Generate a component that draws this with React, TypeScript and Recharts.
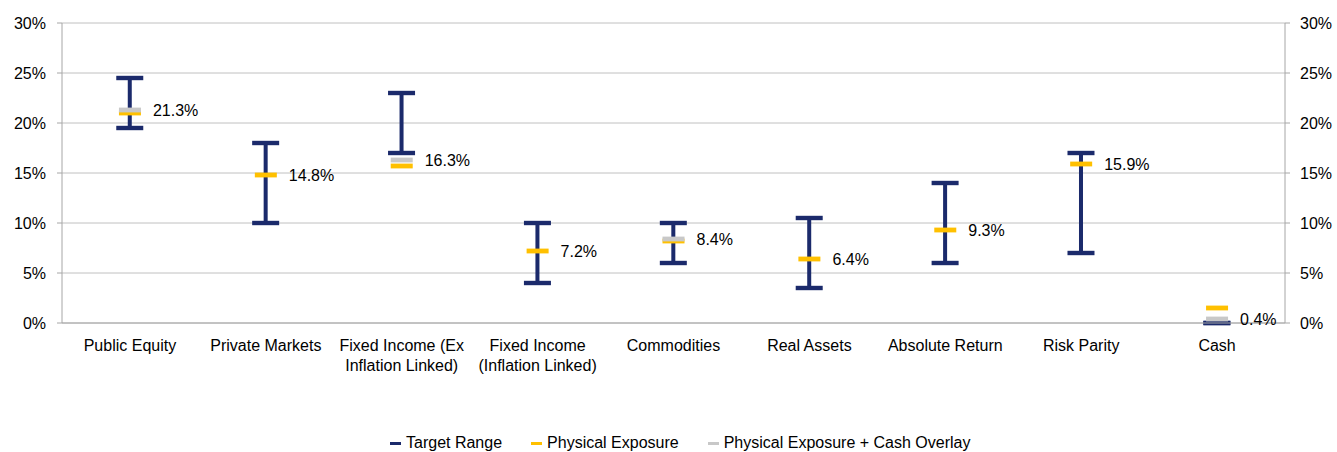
import React from 'react';
import { ComposedChart, Bar, Scatter, XAxis, YAxis, CartesianGrid, Legend } from 'recharts';

const NAVY = '#1b2a6b';
const YELLOW = '#ffc000';
const GRAY = '#c8c8c8';
const AXIS = '#a6a6a6';
const GRID = '#c0c0c0';

const categories = [
  'Public Equity',
  'Private Markets',
  'Fixed Income (Ex\nInflation Linked)',
  'Fixed Income\n(Inflation Linked)',
  'Commodities',
  'Real Assets',
  'Absolute Return',
  'Risk Parity',
  'Cash',
];
const targetLow = [19.5, 10, 17, 4, 6, 3.5, 6, 7, 0];
const targetHigh = [24.5, 18, 23, 10, 10, 10.5, 14, 17, 0];
const physicalExposure = [21.0, 14.8, 15.7, 7.2, 8.2, 6.4, 9.3, 15.9, 1.5];
const physicalPlusOverlay: (number | null)[] = [21.3, null, 16.3, null, 8.4, null, null, null, 0.4];
const labelValues = [21.3, 14.8, 16.3, 7.2, 8.4, 6.4, 9.3, 15.9, 0.4];
const yTicks = [0, 5, 10, 15, 20, 25, 30];
const boundaryTicks = [0, 1, 2, 3, 4, 5, 6, 7, 8, 9];

const legendItems = [
  { name: 'Target Range', color: NAVY },
  { name: 'Physical Exposure', color: YELLOW },
  { name: 'Physical Exposure + Cash Overlay', color: GRAY },
];

const data = categories.map((name, i) => ({
  name,
  range: [targetLow[i], targetHigh[i]],
  physical: physicalExposure[i],
  overlay: physicalPlusOverlay[i],
  label: labelValues[i],
}));

const RangeShape = (props: any) => {
  const { x, y, width, height } = props;
  const cx = x + width / 2;
  const top = Math.min(y, y + height);
  const bottom = Math.max(y, y + height);
  const capW = 27;
  const t = 4.4;
  return (
    <g>
      <rect x={cx - 2} y={top} width={4} height={bottom - top} fill={NAVY} />
      <rect x={cx - capW / 2} y={top - t / 2} width={capW} height={t} fill={NAVY} />
      <rect x={cx - capW / 2} y={bottom - t / 2} width={capW} height={t} fill={NAVY} />
    </g>
  );
};

const markerShape = (color: string, key: string) => (props: any) => {
  const { cx, cy, payload } = props;
  if (payload[key] == null || !isFinite(cy)) return <g />;
  return <rect x={cx - 11} y={cy - 2.4} width={22} height={4.8} fill={color} />;
};

const LabelShape = (props: any) => {
  const { cx, cy, payload } = props;
  return (
    <text x={cx + 23} y={cy} dy="0.35em" fontSize={16} fill="#000">
      {payload.label.toFixed(1)}%
    </text>
  );
};

const XTick = (props: any) => {
  const { x, y, payload } = props;
  const lines = String(payload.value).split('\n');
  return (
    <text x={x} y={y + 20} textAnchor="middle" fontSize={16} fill="#000">
      {lines.map((l, i) => (
        <tspan key={i} x={x} dy={i === 0 ? 0 : 20}>
          {l}
        </tspan>
      ))}
    </text>
  );
};

const LegendContent = () => (
  <div
    style={{
      display: 'flex',
      alignItems: 'center',
      paddingLeft: 390,
      height: 18,
      fontSize: 16,
      lineHeight: '18px',
      color: '#000',
      whiteSpace: 'nowrap',
    }}
  >
    {legendItems.map((it, i) => (
      <div key={it.name} style={{ display: 'flex', alignItems: 'center', marginRight: i < legendItems.length - 1 ? 29 : 0 }}>
        <span style={{ display: 'inline-block', width: 11, height: 3, background: it.color, marginRight: 5 }} />
        <span>{it.name}</span>
      </div>
    ))}
  </div>
);

export default function App() {
  return (
    <div
      style={{
        position: 'absolute',
        left: 0,
        top: 0,
        width: 1337,
        height: 452,
        background: '#fff',
        fontFamily: '"Liberation Sans", Arial, sans-serif',
      }}
    >
      <ComposedChart
        width={1337}
        height={452}
        data={data}
        margin={{ top: 23, right: 0, bottom: 0, left: 0 }}
        barCategoryGap="30%"
      >
        <CartesianGrid horizontal vertical={false} stroke={GRID} yAxisId="l" xAxisId="cat" />
        <XAxis
          xAxisId="ticks"
          type="number"
          domain={[0, 9]}
          ticks={boundaryTicks}
          tick={false}
          axisLine={false}
          tickLine={{ stroke: AXIS }}
          tickSize={5}
          height={0}
          allowDataOverflow
        />
        <XAxis
          xAxisId="cat"
          dataKey="name"
          interval={0}
          tick={<XTick />}
          tickLine={false}
          axisLine={{ stroke: AXIS }}
          height={111}
        />
        <YAxis
          yAxisId="l"
          orientation="left"
          domain={[0, 30]}
          ticks={yTicks}
          tickFormatter={(v) => `${v}%`}
          width={62}
          tick={{ fill: '#000', fontSize: 16 }}
          tickLine={{ stroke: AXIS }}
          tickSize={5}
          tickMargin={11}
          axisLine={{ stroke: AXIS }}
          interval={0}
        />
        <YAxis
          yAxisId="r"
          orientation="right"
          domain={[0, 30]}
          ticks={yTicks}
          tickFormatter={(v) => `${v}%`}
          width={52}
          tick={{ fill: '#000', fontSize: 16 }}
          tickLine={{ stroke: AXIS }}
          tickSize={5}
          tickMargin={10}
          axisLine={{ stroke: AXIS }}
          interval={0}
        />
        <Bar
          xAxisId="cat"
          yAxisId="l"
          dataKey="range"
          name="Target Range"
          fill={NAVY}
          shape={<RangeShape />}
          isAnimationActive={false}
        />
        <Scatter
          xAxisId="cat"
          yAxisId="l"
          dataKey="physical"
          name="Physical Exposure"
          fill={YELLOW}
          shape={markerShape(YELLOW, 'physical')}
          isAnimationActive={false}
        />
        <Scatter
          xAxisId="cat"
          yAxisId="l"
          dataKey="overlay"
          name="Physical Exposure + Cash Overlay"
          fill={GRAY}
          shape={markerShape(GRAY, 'overlay')}
          isAnimationActive={false}
        />
        <Scatter
          xAxisId="cat"
          yAxisId="r"
          dataKey="label"
          name="label"
          legendType="none"
          shape={<LabelShape />}
          isAnimationActive={false}
        />
        <Legend verticalAlign="bottom" content={<LegendContent />} wrapperStyle={{ left: 0, width: 1337 }} />
      </ComposedChart>
    </div>
  );
}
